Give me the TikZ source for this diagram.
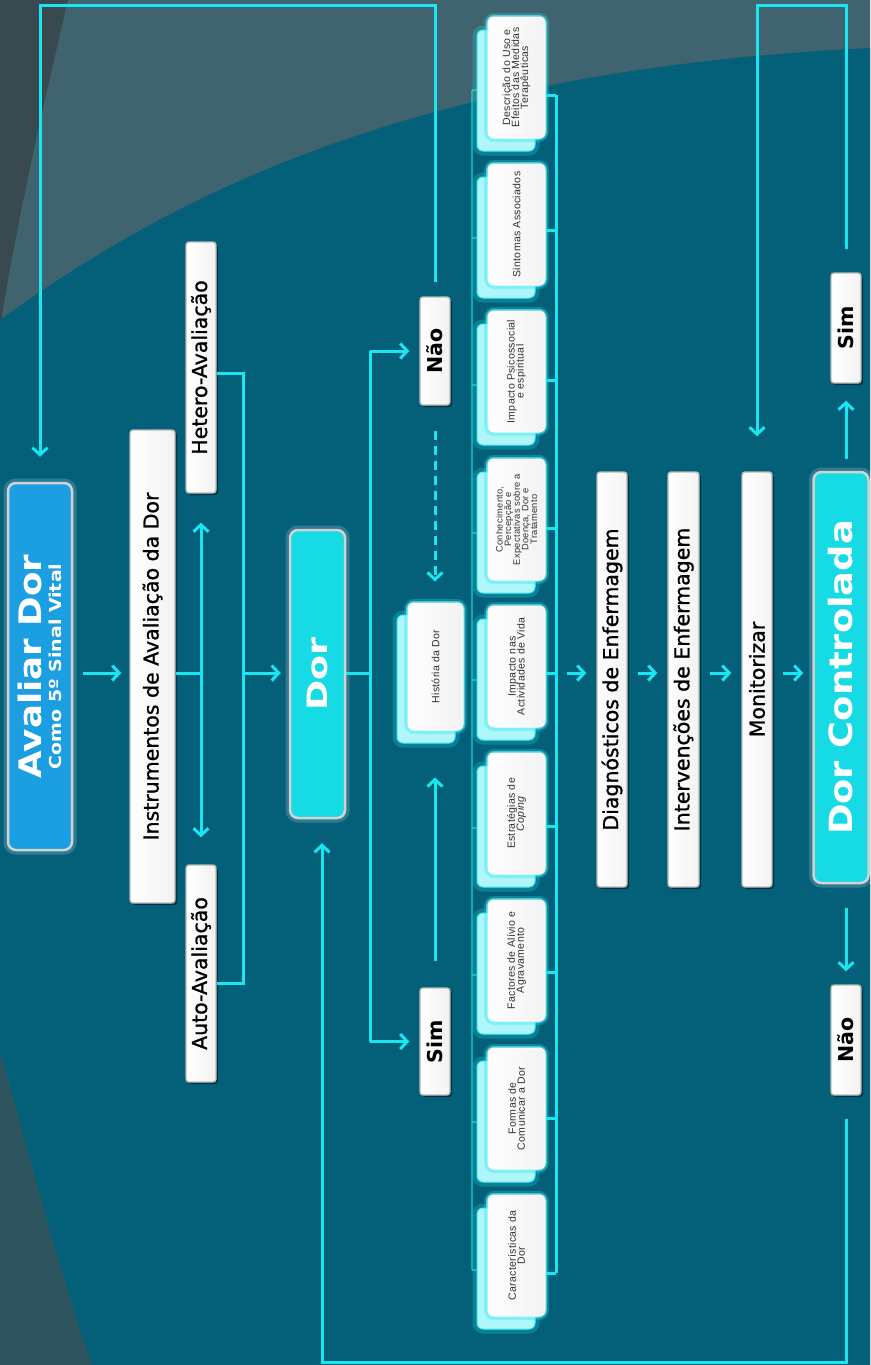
\documentclass[tikz,border=0pt]{standalone}
\usepackage{fontspec}
\setmainfont{DejaVu Sans}
\newfontfamily\medfont[FakeBold=1]{DejaVu Sans}
\newfontfamily\widefont[FakeStretch=1.15]{DejaVu Sans}
\newfontfamily\dorfont[FakeStretch=1.3]{DejaVu Sans}
\newfontfamily\cardfont[LetterSpace=3]{Liberation Sans}
\usetikzlibrary{arrows.meta,shadows}
\definecolor{lc}{RGB}{25,230,240}
\definecolor{bgTeal}{RGB}{4,95,121}
\definecolor{bgGray}{RGB}{63,99,111}
\definecolor{bgDark}{RGB}{56,73,79}
\definecolor{bgBL}{RGB}{46,84,94}
\definecolor{avBlue}{RGB}{27,158,226}
\definecolor{dorCyan}{RGB}{22,218,228}
\definecolor{cardtxt}{RGB}{50,50,50}
% rotated, centred lines separated by \cr, with a fixed distance between baselines
\newcommand{\rtc}[2]{\rotatebox{90}{\vbox{\baselineskip=#1\lineskiplimit=-50pt\lineskip=0pt\halign{\hfil##\hfil\cr#2\crcr}}}}
\newcommand{\rt}[1]{\rotatebox{90}{#1}}
\tikzset{
  conn/.style={draw=lc, line width=3pt},
  thinconn/.style={draw=lc, line width=1.6pt, opacity=.55},
  arr/.style={conn, -{Straight Barb[length=7pt,width=15pt]}},
  darr/.style={conn, {Straight Barb[length=7pt,width=15pt]}-{Straight Barb[length=7pt,width=15pt]}},
  wbox/.style={draw=gray!55, line width=1.4pt, left color=white, right color=gray!10, rounded corners=3pt, inner sep=0pt, text=black,
    font=\medfont\fontsize{20.5}{22}\selectfont, drop shadow={shadow xshift=2pt, shadow yshift=-2pt, opacity=.45, fill=black}},
  ynbox/.style={wbox, font=\fontsize{20.5}{22}\selectfont\bfseries},
  bigbox/.style={draw=gray!35, line width=2.5pt, rounded corners=8pt, inner sep=0pt, text=white,
    preaction={draw=white, opacity=.18, line width=9pt}},
  cardb/.style={rounded corners=6pt, minimum width=58pt, minimum height=121pt, inner sep=0pt,
    fill=lc!35!white, draw=lc!80!white, line width=1pt,
    preaction={draw=lc, opacity=.25, line width=9pt}},
  cardf/.style={rounded corners=6pt, minimum width=57pt, minimum height=121pt, inner sep=0pt,
    left color=white, right color=gray!10, draw=white, line width=1pt,
    preaction={draw=lc, opacity=.3, line width=8pt},
    preaction={draw=lc!60!white, opacity=.6, line width=4pt},
    text=cardtxt, font=\cardfont\fontsize{10.5}{9}\selectfont},
}
\begin{document}
\begin{tikzpicture}[x=1pt,y=-1pt]
\useasboundingbox (0,0) rectangle (870,1365);
% background
\fill[bgDark] (0,0) rectangle (870,1365);
\fill[bgGray] (68,0) .. controls (40,120) and (15,230) .. (0,330) -- (0,1365) -- (870,1365) -- (870,0) -- cycle;
\fill[bgTeal] (0,320) .. controls (180,190) and (420,70) .. (870,48) -- (870,1365) -- (92,1365) .. controls (65,1290) and (35,1180) .. (0,1050) -- cycle;
\fill[bgBL] (0,1050) .. controls (35,1180) and (65,1290) .. (92,1365) -- (0,1365) -- cycle;

% main nodes
\node[bigbox, fill=avBlue, minimum width=64pt, minimum height=367pt] (avaliar) at (40,666.5)
  {\rtc{19.5pt}{{\widefont\fontsize{31}{31}\selectfont\bfseries Avaliar Dor}\cr{\widefont\fontsize{16.5}{17}\selectfont\bfseries Como 5º Sinal Vital}}};
\node[wbox, minimum width=45pt, minimum height=473pt] (instr) at (152.5,666.5) {\rt{Instrumentos de Avaliação da Dor}};
\node[wbox, minimum width=30pt, minimum height=251pt] (hetero) at (201,367.5) {\rt{Hetero-Avaliação}};
\node[wbox, minimum width=30pt, minimum height=217pt] (auto) at (201,973.5) {\rt{Auto-Avaliação}};
\node[bigbox, fill=dorCyan, minimum width=55pt, minimum height=288pt, font=\dorfont\fontsize{28}{30}\selectfont\bfseries] (dor) at (317.5,674) {\rt{Dor}};
\node[ynbox, minimum width=30pt, minimum height=108pt] (nao1) at (435,351) {\rt{Não}};
\node[ynbox, minimum width=30pt, minimum height=107pt] (sim1) at (435,1041.5) {\rt{Sim}};

% historia card
\node[cardb, minimum height=128pt] (histb) at (426,679) {};
\node[cardf, minimum width=55pt, minimum height=127pt] (hist) at (435.5,666.5) {\rt{História da Dor}};

% nine cards
\node[cardb] (b1) at (506,90.5) {};
\node[cardf] (c1) at (516.5,77.5) {\rtc{9pt}{Descrição do Uso e\cr Efeitos das Medidas\cr Terapêuticas}};
\node[cardb] (b2) at (506,237.5) {};
\node[cardf] (c2) at (516.5,224.5) {\rt{Sintomas Associados}};
\node[cardb] (b3) at (506,384.5) {};
\node[cardf] (c3) at (516.5,371.5) {\rtc{9pt}{Impacto Psicossocial\cr e espiritual}};
\node[cardb] (b4) at (506,532.5) {};
\node[cardf, font=\cardfont\fontsize{9.3}{8.6}\selectfont] (c4) at (516.5,519.5) {\rtc{8.6pt}{Conhecimento,\cr Percepção e\cr Expectativas sobre a\cr Doença, Dor e\cr Tratamento}};
\node[cardb] (b5) at (506,679.5) {};
\node[cardf] (c5) at (516.5,666.5) {\rtc{9pt}{Impacto nas\cr Actividades de Vida}};
\node[cardb] (b6) at (506,826.5) {};
\node[cardf] (c6) at (516.5,813.5) {\rtc{9pt}{Estratégias de\cr \textit{Coping}}};
\node[cardb] (b7) at (506,973.5) {};
\node[cardf] (c7) at (516.5,960.5) {\rtc{9pt}{Factores de Alívio e\cr Agravamento}};
\node[cardb] (b8) at (506,1121.5) {};
\node[cardf] (c8) at (516.5,1108.5) {\rtc{9pt}{Formas de\cr Comunicar a Dor}};
\node[cardb] (b9) at (506,1268.5) {};
\node[cardf] (c9) at (516.5,1255.5) {\rtc{9pt}{Características da\cr Dor}};

\node[wbox, minimum width=30pt, minimum height=415pt] (diag) at (612,679.5) {\rt{Diagnósticos de Enfermagem}};
\node[wbox, minimum width=31pt, minimum height=415pt] (interv) at (683.5,679.5) {\rt{Intervenções de Enfermagem}};
\node[wbox, minimum width=30pt, minimum height=415pt] (monit) at (757,679.5) {\rt{Monitorizar}};
\node[bigbox, fill=dorCyan, minimum width=55pt, minimum height=411pt, font=\widefont\fontsize{32}{34}\selectfont\bfseries] (dorc) at (841,677.5) {\rt{Dor Controlada}};
\node[ynbox, minimum width=30pt, minimum height=110pt] (sim2) at (846,328) {\rt{Sim}};
\node[ynbox, minimum width=30pt, minimum height=110pt] (nao2) at (846,1040) {\rt{Não}};

% coordinates
\coordinate (axis) at (0,673);
\coordinate (tA) at (435,5);
\coordinate (tB) at (40,5);
\coordinate (sp1) at (200,673);
\coordinate (hb1) at (243,373);
\coordinate (hb2) at (243,983);
\coordinate (hbm) at (243,673);
\coordinate (dv1) at (370,351);
\coordinate (dv2) at (370,1041.5);
\coordinate (dvm) at (370,673);
\coordinate (tR) at (757,5);
\coordinate (botL) at (322,1362);

% connectors
\draw[arr, shorten <=14pt, shorten >=25pt] (nao1.north) -- (tA) -- (tB) -- (avaliar.north);
\draw[arr, shorten <=10pt, shorten >=8pt] (avaliar.east |- axis) -- (instr.west |- axis);
\draw[conn] (instr.east |- axis) -- (sp1);
\draw[darr, shorten <=29pt, shorten >=27pt] (hetero.south) -- (auto.north);
\draw[conn] (hetero.east |- hb1) -- (hb1) -- (hb2) -- (auto.east |- hb2);
\draw[arr, shorten >=8pt] (hbm) -- (dor.west |- axis);
\draw[conn] (dor.east |- axis) -- (dvm);
\draw[conn] (dv1) -- (dv2);
\draw[arr, shorten >=10pt] (dv1) -- (nao1.west);
\draw[arr, shorten >=10pt] (dv2) -- (sim1.west);
\draw[arr, shorten <=26pt, shorten >=34pt] (sim1.north) -- (histb.south -| sim1.north);
\draw[arr, dashed, dash pattern=on 9pt off 6pt, shorten <=25pt, shorten >=21pt] (nao1.south) -- (hist.north -| nao1.south);

% card brackets
\coordinate (rt1) at (556,95);
\coordinate (rt9) at (556,1273);
\coordinate (rt5) at (556,673);
\coordinate (lt1) at (472,90);
\coordinate (lt9) at (472,1270);
\draw[conn] (rt1) -- (rt9);
\draw[thinconn] (lt1) -- (lt9);
\foreach \i/\r/\l in {1/95/90,2/230/238,3/380/385,4/528/533,5/673/680,6/826/828,7/972/975,8/1118/1122,9/1273/1270}{
  \draw[conn] (c\i.east |- 0,\r) -- (556,\r);
  \draw[thinconn] (472,\l) -- (b\i.west |- 0,\l);
}
\draw[arr, shorten <=11pt, shorten >=10pt] (rt5) -- (diag.west |- axis);
\draw[arr, shorten <=10pt, shorten >=10pt] (diag.east |- axis) -- (interv.west |- axis);
\draw[arr, shorten <=10pt, shorten >=10pt] (interv.east |- axis) -- (monit.west |- axis);
\draw[arr, shorten <=10pt, shorten >=9pt] (monit.east |- axis) -- (dorc.west |- axis);

\draw[arr, shorten <=12pt, shorten >=17pt] (sim2.south |- dorc.north) -- (sim2.south);
\draw[arr, shorten <=23pt, shorten >=35pt] (sim2.north) |- (tR) -- (monit.north);
\draw[arr, shorten <=24pt, shorten >=13pt] (nao2.north |- dorc.south) -- (nao2.north);
\draw[arr, shorten <=23pt, shorten >=24pt] (nao2.south) |- (botL) -- (botL |- dor.south);
\end{tikzpicture}
\end{document}
